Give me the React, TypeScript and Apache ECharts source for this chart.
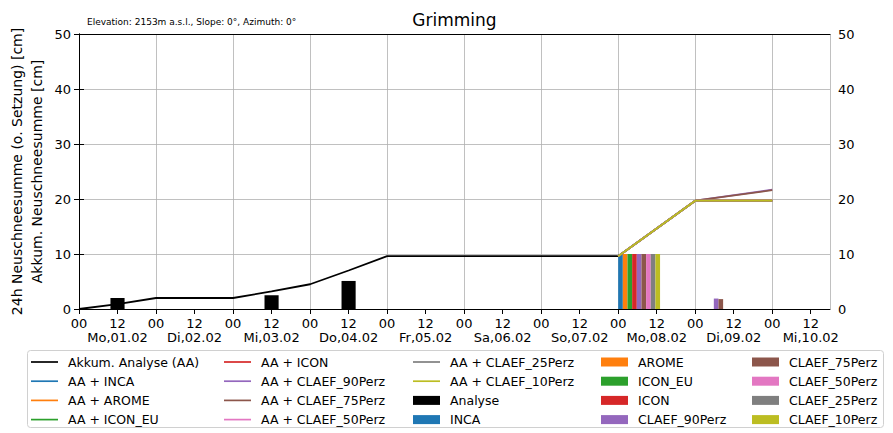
import React, { useEffect, useRef } from 'react';
import * as echarts from 'echarts';

// ---------- data ----------
const dayLabels = ['Mo,01.02', 'Di,02.02', 'Mi,03.02', 'Do,04.02', 'Fr,05.02', 'Sa,06.02', 'So,07.02', 'Mo,08.02', 'Di,09.02', 'Mi,10.02'];
const tickHours = [0, 12, 24, 36, 48, 60, 72, 84, 96, 108, 120, 132, 144, 156, 168, 180, 192, 204, 216, 228];

// Akkumulierte Analyse (hours since Mo,01.02 00)
const analyseHours = [0, 12, 24, 36, 48, 60, 72, 84, 96, 108, 120, 132, 144, 156, 168];
const akkumAnalyse = [0, 0.9, 2.0, 2.0, 2.0, 3.2, 4.5, 7.0, 9.6, 9.6, 9.6, 9.6, 9.6, 9.6, 9.6];

// 24h Analyse bars, centred on noon of each day
const analyseBarHours = [12, 36, 60, 84, 108, 132, 156];
const analyseBarValues = [2.0, 0, 2.5, 5.1, 0, 0, 0];

// Forecast models
const modelNames = ['INCA', 'AROME', 'ICON_EU', 'ICON', 'CLAEF_90Perz', 'CLAEF_75Perz', 'CLAEF_50Perz', 'CLAEF_25Perz', 'CLAEF_10Perz'];
const modelDayStartHours = [168, 192];
const model24hMo08 = [10.0, 10.0, 10.0, 10.0, 10.0, 10.0, 10.0, 10.0, 10.0];
const model24hDi09 = [0, 0, 0, 0, 1.9, 1.8, 0, 0, 0];

const aaModelHours = [168, 192, 216];
const aaModelAt168 = [9.6, 9.6, 9.6, 9.6, 9.6, 9.6, 9.6, 9.6, 9.6];
const aaModelAt192 = [19.7, 19.7, 19.7, 19.7, 19.7, 19.7, 19.7, 19.7, 19.7];
const aaModelAt216 = [19.6, 19.7, 19.7, 19.7, 21.7, 21.6, 19.7, 19.7, 19.7];

const yTicks = [0, 10, 20, 30, 40, 50];

// ---------- styles ----------
const tab10 = ['#1f77b4', '#ff7f0e', '#2ca02c', '#d62728', '#9467bd', '#8c564b', '#e377c2', '#7f7f7f', '#bcbd22'];
const FONT = 'DejaVu Sans';
const ANALYSE_BAR_W = 4.4; // hours
const MODEL_BAR_W = 1.45; // hours
const LINE_ICON = 'path://M0 0H270V17H0Z';

function barRender(params: any, api: any) {
  const x0 = api.value(0);
  const x1 = api.value(1);
  const v = api.value(2);
  if (!v) return null;
  const p0 = api.coord([x0, v]);
  const p1 = api.coord([x1, 0]);
  return {
    type: 'rect',
    shape: { x: p0[0], y: p0[1], width: p1[0] - p0[0], height: p1[1] - p0[1] },
    style: { fill: api.visual('color') },
  };
}

export default function App() {
  const ref = useRef<HTMLDivElement>(null);
  useEffect(() => {
    if (!ref.current) return;
    const chart = echarts.init(ref.current, undefined, { renderer: 'svg' });

    const series: any[] = [];
    series.push({
      name: 'Akkum. Analyse (AA)',
      type: 'line',
      data: analyseHours.map((h, i) => [h, akkumAnalyse[i]]),
      symbol: 'none',
      lineStyle: { color: '#000', width: 1.8 },
      itemStyle: { color: '#000' },
      z: 3,
    });
    modelNames.forEach((m, i) => {
      series.push({
        name: 'AA + ' + m,
        type: 'line',
        data: aaModelHours.map((h, k) => [h, [aaModelAt168[i], aaModelAt192[i], aaModelAt216[i]][k]]),
        symbol: 'none',
        lineStyle: { color: tab10[i], width: 1.8 },
        itemStyle: { color: tab10[i] },
        z: 3,
      });
    });
    series.push({
      name: 'Analyse',
      type: 'custom',
      renderItem: barRender,
      itemStyle: { color: '#000' },
      encode: { x: [0, 1], y: 2 },
      data: analyseBarHours.map((h, i) => [h - ANALYSE_BAR_W / 2, h + ANALYSE_BAR_W / 2, analyseBarValues[i]]),
      z: 2,
    });
    modelNames.forEach((m, i) => {
      const vals = [model24hMo08[i], model24hDi09[i]];
      series.push({
        name: m,
        type: 'custom',
        renderItem: barRender,
        itemStyle: { color: tab10[i] },
        encode: { x: [0, 1], y: 2 },
        data: modelDayStartHours.map((d, k) => [d + i * MODEL_BAR_W, d + (i + 1) * MODEL_BAR_W, vals[k]]),
        z: 2,
      });
    });

    const legendCols = [
      ['Akkum. Analyse (AA)', 'AA + INCA', 'AA + AROME', 'AA + ICON_EU'],
      ['AA + ICON', 'AA + CLAEF_90Perz', 'AA + CLAEF_75Perz', 'AA + CLAEF_50Perz'],
      ['AA + CLAEF_25Perz', 'AA + CLAEF_10Perz', 'Analyse', 'INCA'],
      ['AROME', 'ICON_EU', 'ICON', 'CLAEF_90Perz'],
      ['CLAEF_75Perz', 'CLAEF_50Perz', 'CLAEF_25Perz', 'CLAEF_10Perz'],
    ];
    const legendLefts = [31, 224, 413, 601, 752];
    const barNames = new Set(['Analyse', ...modelNames]);
    const legends = legendCols.map((col, c) => ({
      orient: 'vertical',
      left: legendLefts[c],
      top: 355,
      height: 90,
      itemWidth: 27,
      itemHeight: 9,
      itemGap: 5.2,
      padding: 0,
      selectedMode: false,
      z: 10,
      textStyle: { fontFamily: FONT, fontSize: 12.5, color: '#000', lineHeight: 14, padding: [0, 0, 0, 5] },
      data: col.map((n) => ({ name: n, icon: barNames.has(n) ? 'rect' : LINE_ICON })),
    }));

    const axisLabelStyle = { fontFamily: FONT, fontSize: 13, color: '#000' };

    chart.setOption({
      animation: false,
      backgroundColor: '#fff',
      grid: { left: 79, right: 63, top: 34, bottom: 124, containLabel: false },
      xAxis: [
        {
          type: 'value',
          min: 0,
          max: 234,
          interval: 12,
          position: 'bottom',
          axisLine: { show: true, lineStyle: { color: '#000', width: 1 } },
          axisTick: { show: true, length: 5, lineStyle: { color: '#000' }, customValues: tickHours },
          axisLabel: {
            ...axisLabelStyle,
            margin: 7,
            lineHeight: 14,
            customValues: tickHours,
            formatter: (v: number) => {
              if (v % 24 === 0) return '00';
              if (v % 24 === 12) return '12\n' + (dayLabels[Math.floor(v / 24)] || '');
              return '';
            },
          },
          splitLine: { show: false },
        },
        {
          type: 'value',
          min: 0,
          max: 234,
          interval: 24,
          position: 'bottom',
          axisLine: { show: false },
          axisTick: { show: false },
          axisLabel: { show: false },
          splitLine: { show: true, lineStyle: { color: '#b0b0b0', width: 0.8 } },
        },
        {
          type: 'value',
          min: 0,
          max: 234,
          position: 'top',
          axisLine: { show: true, lineStyle: { color: '#000', width: 1 } },
          axisTick: { show: false },
          axisLabel: { show: false },
          splitLine: { show: false },
        },
      ],
      yAxis: [
        {
          type: 'value',
          min: 0,
          max: 50,
          interval: 10,
          position: 'left',
          axisLine: { show: true, lineStyle: { color: '#000', width: 1 } },
          axisTick: { show: true, length: 5, lineStyle: { color: '#000' }, customValues: yTicks },
          axisLabel: { ...axisLabelStyle, margin: 8, customValues: yTicks },
          splitLine: { show: true, lineStyle: { color: '#b0b0b0', width: 0.8 } },
        },
        {
          type: 'value',
          min: 0,
          max: 50,
          interval: 10,
          position: 'right',
          axisLine: { show: true, lineStyle: { color: '#000', width: 1 } },
          axisTick: { show: true, length: 5, lineStyle: { color: '#000' }, customValues: yTicks },
          axisLabel: { ...axisLabelStyle, margin: 8, customValues: yTicks },
          splitLine: { show: false },
        },
      ],
      legend: legends,
      graphic: [
        {
          type: 'rect',
          z: 0,
          shape: { x: 27.5, y: 350.5, width: 856, height: 77, r: 3 },
          style: { fill: '#fff', stroke: '#d0d0d0', lineWidth: 1 },
        },
        {
          type: 'text',
          x: 454.5,
          y: 20,
          style: { text: 'Grimming', fontFamily: FONT, fontSize: 17, fill: '#000', textAlign: 'center', textVerticalAlign: 'middle' },
        },
        {
          type: 'text',
          x: 87,
          y: 22,
          style: { text: 'Elevation: 2153m a.s.l., Slope: 0°, Azimuth: 0°', fontFamily: FONT, fontSize: 9, fill: '#000', textAlign: 'left', textVerticalAlign: 'middle' },
        },
        {
          type: 'text',
          x: 17,
          y: 171.5,
          rotation: Math.PI / 2,
          style: { text: '24h Neuschneesumme (o. Setzung) [cm]', fontFamily: FONT, fontSize: 14, fill: '#000', textAlign: 'center', textVerticalAlign: 'middle' },
        },
        {
          type: 'text',
          x: 37,
          y: 171.5,
          rotation: Math.PI / 2,
          style: { text: 'Akkum. Neuschneesumme [cm]', fontFamily: FONT, fontSize: 14, fill: '#000', textAlign: 'center', textVerticalAlign: 'middle' },
        },
      ],
      series,
    });
    return () => chart.dispose();
  }, []);
  return <div ref={ref} style={{ position: 'absolute', left: 0, top: 0, width: 893, height: 433 }} />;
}
